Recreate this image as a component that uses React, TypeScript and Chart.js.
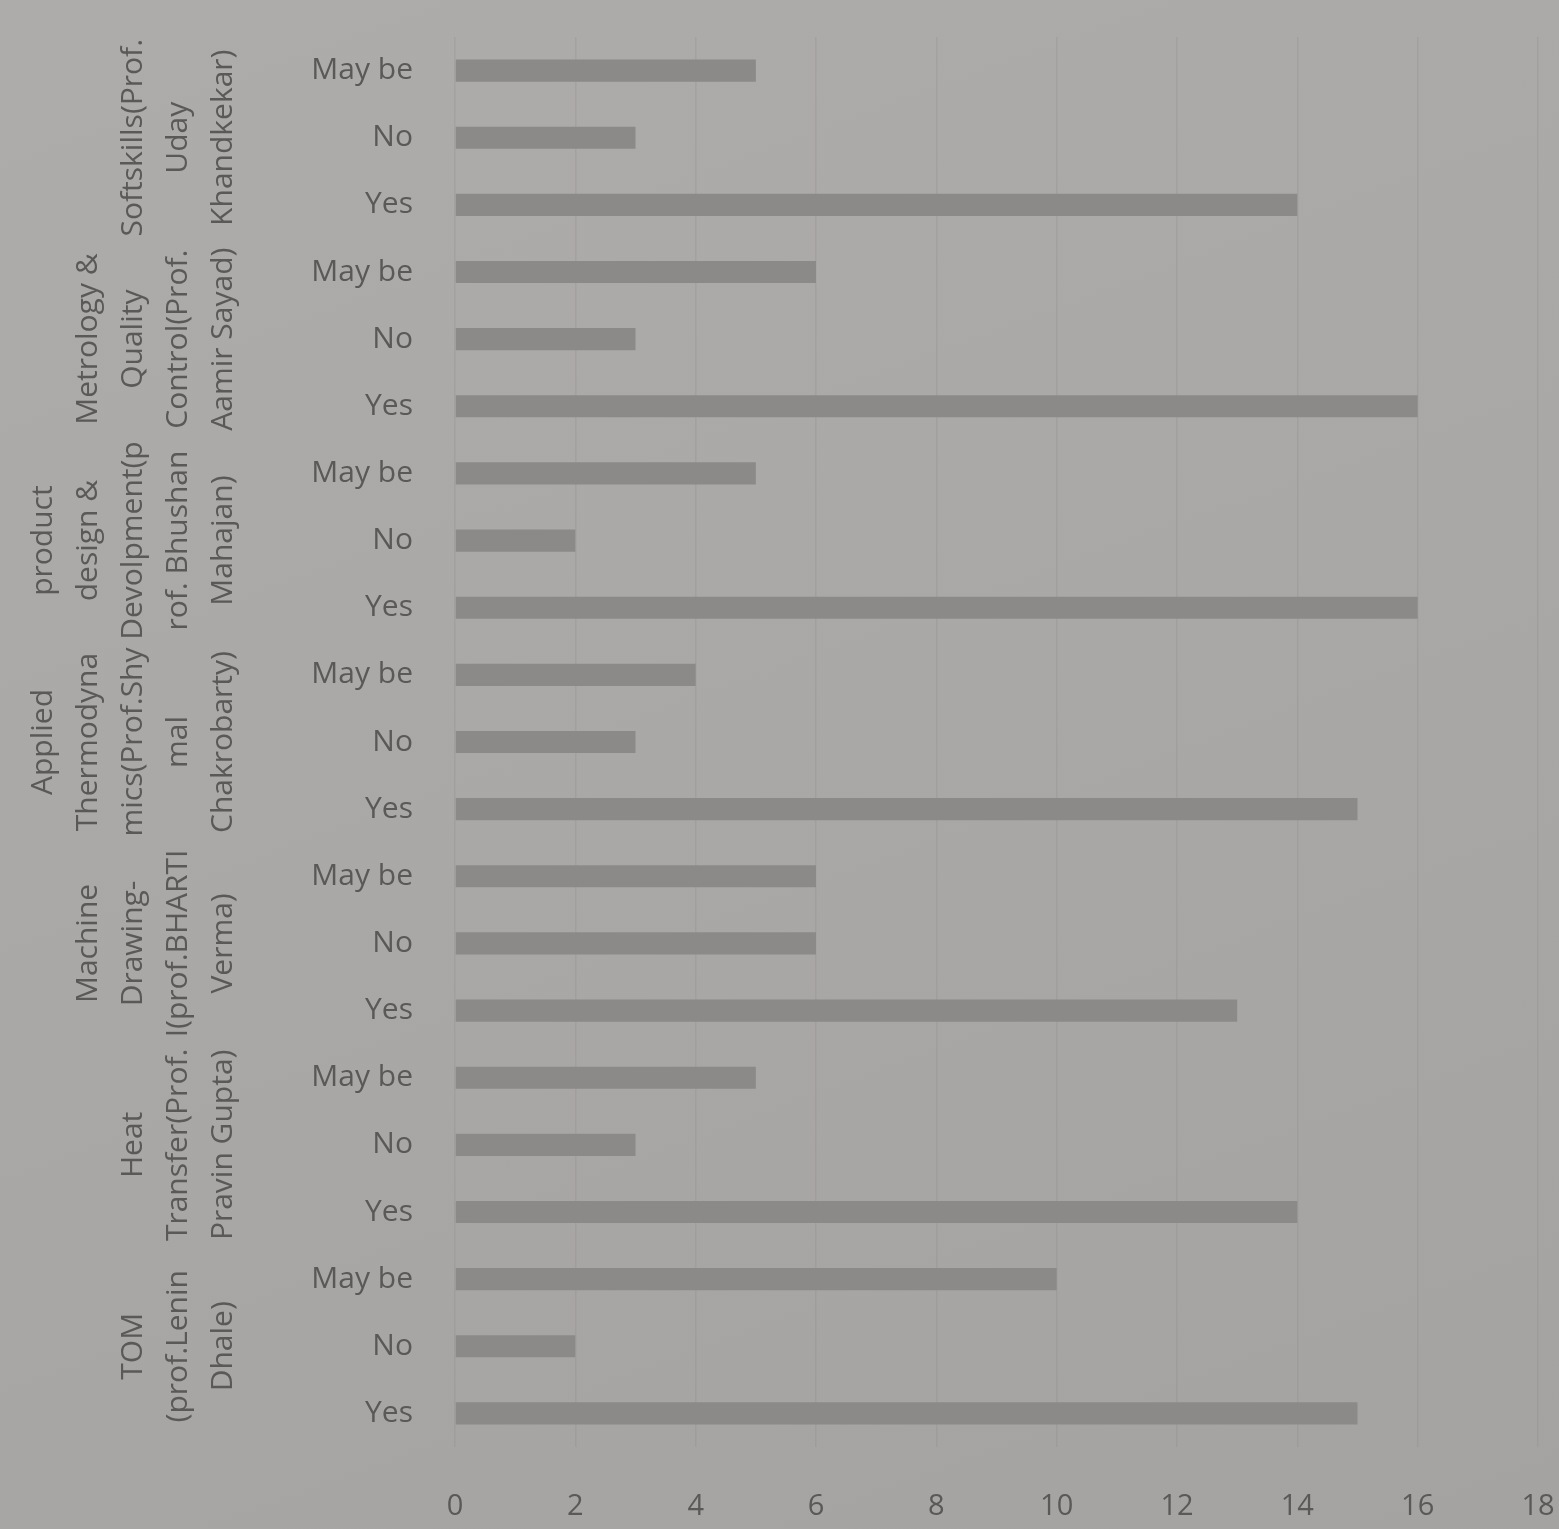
import React, { useEffect, useRef } from "react";
import { Chart, registerables } from "chart.js";

Chart.register(...registerables);

// Groups listed from bottom of chart to top
const groupLabelLines: string[][] = [
  ["TOM", "(prof.Lenin", "Dhale)"],
  ["Heat", "Transfer(Prof.", "Pravin Gupta)"],
  ["Machine", "Drawing-", "I(prof.BHARTI", "Verma)"],
  ["Applied", "Thermodyna", "mics(Prof.Shy", "mal", "Chakrobarty)"],
  ["product", "design &", "Devolpment(p", "rof. Bhushan", "Mahajan)"],
  ["Metrology &", "Quality", "Control(Prof.", "Aamir Sayad)"],
  ["Softskills(Prof.", "Uday", "Khandkekar)"],
];

const answers = ["Yes", "No", "May be"];

const yesValues = [15, 14, 13, 15, 16, 16, 14];
const noValues = [2, 3, 6, 3, 2, 3, 3];
const maybeValues = [10, 5, 6, 4, 5, 6, 5];

const xTickMin = 0;
const xTickMax = 18;
const xTickStep = 2;

const FONT = "'Open Sans', 'Noto Sans', sans-serif";
const TEXT_COLOR = "#5a5958";
const BAR_COLOR = "#8c8a88";
const GRID_COLOR = "rgba(140,138,136,0.28)";

export default function App() {
  const canvasRef = useRef<HTMLCanvasElement | null>(null);

  useEffect(() => {
    if (!canvasRef.current) return;

    const labels: string[] = [];
    const values: number[] = [];
    groupLabelLines.forEach((_, g) => {
      const vals = [yesValues[g], noValues[g], maybeValues[g]];
      answers.forEach((a, i) => {
        labels.push(a);
        values.push(vals[i]);
      });
    });

    const groupLabelPlugin = {
      id: "groupLabels",
      afterDraw(chart: any) {
        const ctx = chart.ctx;
        const yScale = chart.scales.y;
        ctx.save();
        ctx.fillStyle = TEXT_COLOR;
        ctx.font = `30px ${FONT}`;
        ctx.textAlign = "center";
        ctx.textBaseline = "middle";
        const lastX = 223;
        const spacing = 45;
        groupLabelLines.forEach((lines, g) => {
          const yc = yScale.getPixelForValue(g * answers.length + 1);
          const n = lines.length;
          lines.forEach((line, i) => {
            const x = lastX - (n - 1 - i) * spacing;
            ctx.save();
            ctx.translate(x, yc);
            ctx.rotate(-Math.PI / 2);
            ctx.fillText(line, 0, 0);
            ctx.restore();
          });
        });
        ctx.restore();
      },
    };

    const chart = new Chart(canvasRef.current, {
      type: "bar",
      data: {
        labels,
        datasets: [
          {
            data: values,
            backgroundColor: BAR_COLOR,
            borderWidth: 0,
            barPercentage: 0.33,
            categoryPercentage: 1,
          },
        ],
      },
      options: {
        indexAxis: "y",
        animation: false,
        responsive: false,
        maintainAspectRatio: false,
        layout: { padding: { top: 37, right: 21, left: 0, bottom: 0 } },
        plugins: {
          legend: { display: false },
          tooltip: { enabled: false },
          title: { display: false },
        },
        scales: {
          x: {
            type: "linear",
            min: xTickMin,
            max: xTickMax,
            ticks: {
              stepSize: xTickStep,
              color: TEXT_COLOR,
              font: { family: FONT, size: 29 },
              padding: 42,
            },
            grid: {
              color: GRID_COLOR,
              lineWidth: 1.5,
              drawTicks: false,
            },
            border: { display: false },
            afterFit(scale: any) {
              scale.height = 82;
              scale.paddingLeft = 0;
              scale.paddingRight = 0;
            },
          },
          y: {
            type: "category",
            reverse: true,
            ticks: {
              color: TEXT_COLOR,
              font: { family: FONT, size: 30 },
              padding: 42,
              autoSkip: false,
            },
            grid: { display: false, drawTicks: false },
            border: { display: false },
            afterFit(scale: any) {
              scale.width = 455;
              scale.paddingTop = 0;
              scale.paddingBottom = 0;
            },
          },
        },
      },
      plugins: [groupLabelPlugin],
    });

    return () => chart.destroy();
  }, []);

  return (
    <div
      style={{
        position: "absolute",
        left: 0,
        top: 0,
        width: 1559,
        height: 1529,
        background: "linear-gradient(160deg, #aeacaa 0%, #aaa8a6 50%, #a5a3a1 100%)",
      }}
    >
      <canvas ref={canvasRef} width={1559} height={1529} style={{ display: "block" }} />
    </div>
  );
}
